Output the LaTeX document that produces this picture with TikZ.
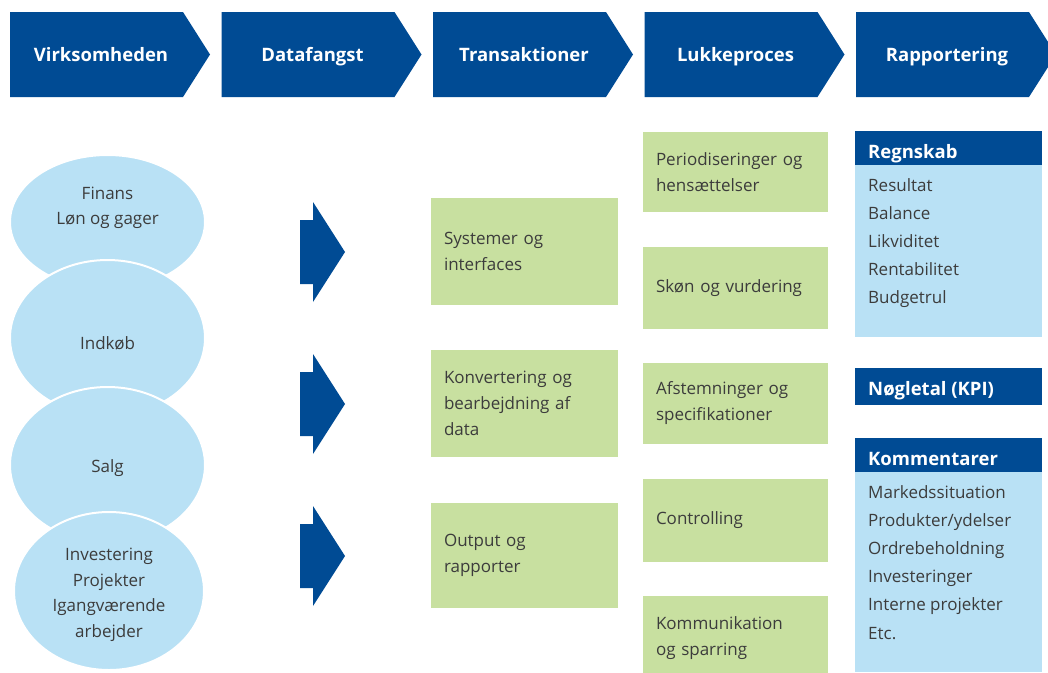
\documentclass[tikz,border=0pt]{standalone}
\usepackage{fontspec}
\setmainfont{Open Sans}
\usetikzlibrary{shapes.geometric}
\definecolor{dblue}{RGB}{0,75,148}
\definecolor{lblue}{RGB}{185,225,245}
\definecolor{lgreen}{RGB}{200,224,160}
\definecolor{tgray}{RGB}{60,60,60}
\begin{document}
\begin{tikzpicture}[x=1pt,y=-1pt,
  chevtext/.style={text=white, font=\bfseries\fontsize{18.5}{20}\selectfont, inner sep=0pt, anchor=base},
  ell/.style={ellipse, fill=lblue, draw=white, line width=2pt, inner sep=0pt},
  etext/.style={text=tgray, align=center, inner sep=0pt, font=\fontsize{17}{25.5}\selectfont},
  gbox/.style={rectangle, fill=lgreen, inner xsep=13pt, inner ysep=0pt, align=left, text=tgray, font=\fontsize{17}{26}\selectfont},
  hdrbox/.style={fill=dblue},
  hdr/.style={text=white, inner sep=0pt, anchor=base west, font=\bfseries\fontsize{18.5}{20}\selectfont},
  item/.style={anchor=base west, inner sep=0pt, text=tgray, font=\fontsize{17}{20}\selectfont},
  blockarrow/.style={fill=dblue}
]
\clip (0,0) rectangle (1048,672);
\fill[white] (0,0) rectangle (1048,672);

% top chevrons
\foreach \i/\t in {0/Virksomheden,1/Datafangst,2/Transaktioner,3/Lukkeproces,4/Rapportering}{
  \fill[dblue] ({10+211.5*\i},12) -- ++(173,0) -- ++(27,42.5) -- ++(-27,42.5) -- ++(-173,0) -- cycle;
  \node[chevtext] (h\i) at ({101+211.5*\i},61.5) {\t};
}

% ellipses
\node[ell, minimum width=195pt, minimum height=134pt] (e1) at (107.5,222) {};
\node[ell, minimum width=195pt, minimum height=156pt] (e2) at (107.5,338) {};
\node[ell, minimum width=195pt, minimum height=156pt] (e3) at (107.5,465) {};
\node[ell, minimum width=190pt, minimum height=158pt] (e4) at (109,591) {};
\node[etext] (t1) at (107.5,208) {Finans\\Løn og gager};
\node[etext] (t2) at (107.5,343) {Indkøb};
\node[etext] (t3) at (107.5,468) {Salg};
\node[etext] (t4) at (109,595) {Investering\\Projekter\\Igangværende\\arbejder};

% block arrows
\foreach \c in {252,404,556}{
  \fill[blockarrow] (300,{\c-32}) -- (313,{\c-32}) -- (313,{\c-50}) -- (345,\c) -- (313,{\c+50}) -- (313,{\c+32}) -- (300,{\c+32}) -- cycle;
}

% Transaktioner boxes
\node[gbox, text width=161pt, minimum height=107pt] (tr1) at (524.5,251.5) {Systemer og\\interfaces};
\node[gbox, text width=161pt, minimum height=107pt] (tr2) at (524.5,403.5) {Konvertering og\\bearbejdning af\\data};
\node[gbox, text width=161pt, minimum height=105pt] (tr3) at (524.5,555.5) {Output og\\rapporter};

% Lukkeproces boxes
\node[gbox, text width=159pt, minimum height=80pt] (lk1) at (735.5,172) {Periodiseringer og\\hensættelser};
\node[gbox, text width=159pt, minimum height=82pt] (lk2) at (735.5,288) {Skøn og vurdering};
\node[gbox, text width=159pt, minimum height=81pt] (lk3) at (735.5,403.5) {Afstemninger og\\specifikationer};
\node[gbox, text width=159pt, minimum height=83pt] (lk4) at (735.5,520.5) {Controlling};
\node[gbox, text width=159pt, minimum height=84pt] (lk5) at (735.5,638) {Kommunikation\\og sparring};

% Rapportering column
\fill[lblue] (855,165) rectangle (1042,337);
\fill[hdrbox] (855,131) rectangle (1042,165);
\node[hdr] (rg) at (868,158.5) {Regnskab};
\foreach \t [count=\k] in {Resultat,Balance,Likviditet,Rentabilitet,Budgetrul}{
  \node[item] (rg\k) at (868,{191+28.2*(\k-1)}) {\t};
}
\fill[hdrbox] (855,368) rectangle (1042,405);
\node[hdr] (kpi) at (868,395.5) {Nøgletal (KPI)};
\fill[lblue] (855,472) rectangle (1042,672);
\fill[hdrbox] (855,438) rectangle (1042,472);
\node[hdr] (km) at (868,465.5) {Kommentarer};
\foreach \t [count=\k] in {Markedssituation,Produkter/ydelser,Ordrebeholdning,Investeringer,Interne projekter,Etc.}{
  \node[item] (km\k) at (868,{498+28.2*(\k-1)}) {\t};
}
\end{tikzpicture}
\end{document}
